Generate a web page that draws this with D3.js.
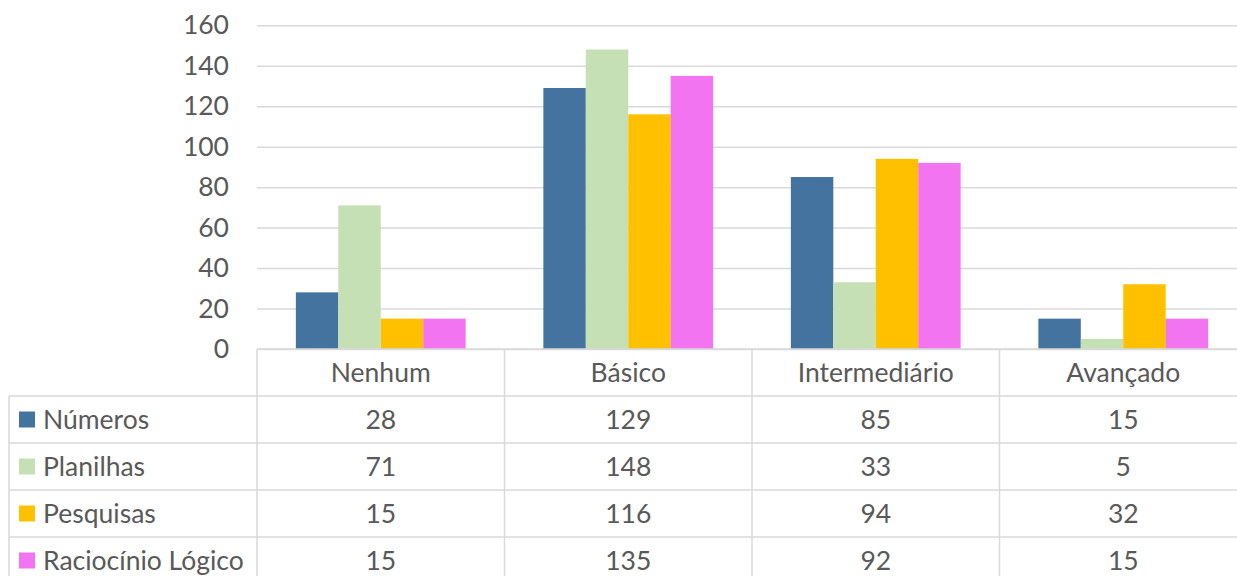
<!DOCTYPE html>
<html><head><meta charset="utf-8">
<script src="https://cdn.jsdelivr.net/npm/d3@7"></script>
<style>body{margin:0;background:#fff;}svg{display:block;font-family:Lato,"Open Sans",sans-serif;}</style>
</head><body><svg id="c" width="1237" height="576"></svg>
<script>
const categories = ["Nenhum", "Básico", "Intermediário", "Avançado"];
const seriesNames = ["Números", "Planilhas", "Pesquisas", "Raciocínio Lógico"];
const numeros = [28, 129, 85, 15];
const planilhas = [71, 148, 33, 5];
const pesquisas = [15, 116, 94, 32];
const raciocinio = [15, 135, 92, 15];
const yTicks = [0, 20, 40, 60, 80, 100, 120, 140, 160];
const colors = ["#44739f", "#c5e0b4", "#ffc000", "#f374f0"];

const series = [numeros, planilhas, pesquisas, raciocinio];
const svg = d3.select("#c");
const plotLeft = 257, colW = 247.5, plotTop = 25.3, base = 349;
const textColor = "#595959", lineColor = "#d9d9d9";
const fs = 26.5;

const y = d3.scaleLinear().domain([0, 160]).range([base, plotTop]);
const x0 = d3.scaleBand().domain(categories).range([plotLeft, plotLeft + 4 * colW]).padding(0);
const x1 = d3.scaleBand().domain(seriesNames).range([colW * 0.157, colW * 0.843]).padding(0);

// gridlines
const yAxis = d3.axisLeft(y).tickValues(yTicks).tickSize(-(1237 - plotLeft)).tickPadding(28);
const ga = svg.append("g").attr("transform", `translate(${plotLeft},0)`).call(yAxis);
ga.select(".domain").remove();
ga.selectAll(".tick line").attr("stroke", lineColor).attr("stroke-width", 1.5);
ga.selectAll(".tick text").attr("fill", textColor).attr("font-size", fs).attr("font-family", "Lato,'Open Sans',sans-serif");

// bars
categories.forEach((cat, ci) => {
  series.forEach((s, si) => {
    svg.append("rect")
      .attr("x", x0(cat) + x1(seriesNames[si]))
      .attr("y", y(s[ci]))
      .attr("width", x1.bandwidth())
      .attr("height", base - y(s[ci]))
      .attr("fill", colors[si]);
  });
});

// table
const rows = d3.scaleBand().domain(["header", ...seriesNames]).range([base, base + 5 * 47]).padding(0);
const tbl = svg.append("g").attr("stroke", lineColor).attr("stroke-width", 1.5);
tbl.append("line").attr("x1", plotLeft).attr("x2", 1237).attr("y1", base).attr("y2", base);
categories.forEach(cat => {
  tbl.append("line").attr("x1", x0(cat)).attr("x2", x0(cat)).attr("y1", base).attr("y2", 576);
});
tbl.append("line").attr("x1", 9).attr("x2", 9).attr("y1", rows(seriesNames[0])).attr("y2", 576);
seriesNames.forEach(n => {
  tbl.append("line").attr("x1", 9).attr("x2", 1237).attr("y1", rows(n)).attr("y2", rows(n));
});

categories.forEach(cat => {
  svg.append("text").attr("x", x0(cat) + colW / 2).attr("y", rows("header") + rows.bandwidth() / 2)
    .attr("dy", "0.35em").attr("text-anchor", "middle").attr("fill", textColor).attr("font-size", fs).text(cat);
});
seriesNames.forEach((n, si) => {
  const cy = rows(n) + rows.bandwidth() / 2;
  svg.append("rect").attr("x", 19).attr("y", cy - 8).attr("width", 16).attr("height", 16).attr("fill", colors[si]);
  svg.append("text").attr("x", 43).attr("y", cy).attr("dy", "0.35em").attr("fill", textColor).attr("font-size", fs).text(n);
  categories.forEach((cat, ci) => {
    svg.append("text").attr("x", x0(cat) + colW / 2).attr("y", cy).attr("dy", "0.35em")
      .attr("text-anchor", "middle").attr("fill", textColor).attr("font-size", fs).text(series[si][ci]);
  });
});
</script></body></html>
